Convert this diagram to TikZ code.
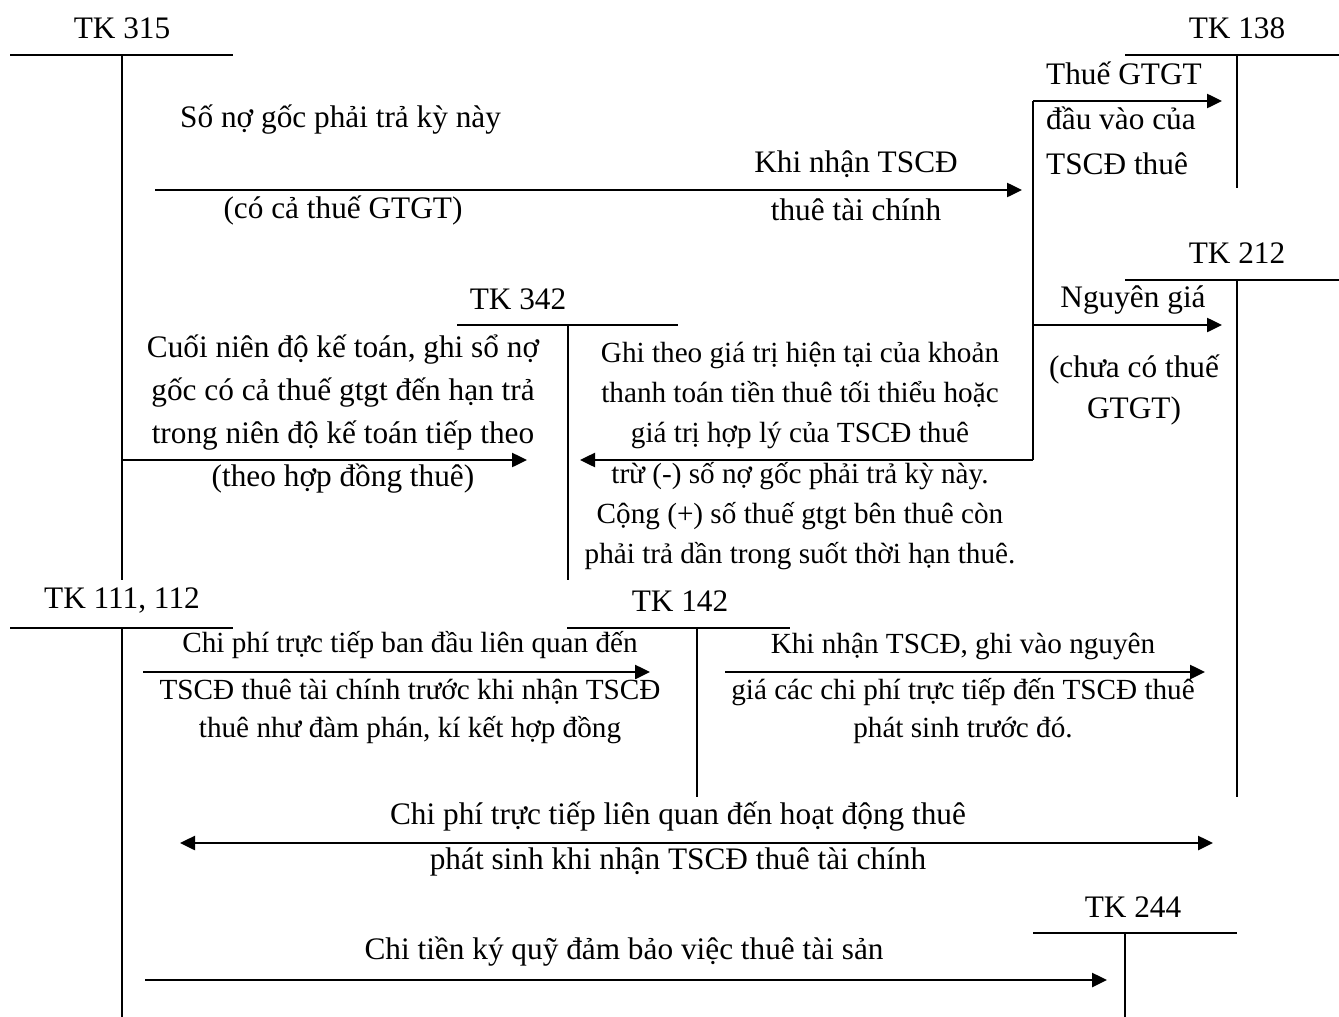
\documentclass[tikz,border=0pt]{standalone}
\usepackage{fontspec}
\setmainfont{Liberation Serif}
\usetikzlibrary{arrows.meta}
\begin{document}
\begin{tikzpicture}[x=1pt,y=-1pt,
  acc/.style={line width=2pt},
  flow/.style={line width=2.5pt,-{Triangle[length=15pt,width=14pt]}},
  bflow/.style={line width=2.5pt,{Triangle[length=15pt,width=14pt]}-{Triangle[length=15pt,width=14pt]}},
  txt/.style={font=\fontsize{31.3}{40}\selectfont, inner sep=0pt, align=center},
]
\useasboundingbox[fill=white] (0,0) rectangle (1339,1017);

% ---- T accounts
\node[txt] (l315) at (122,28) {TK 315};
\draw[acc] (10,55) -- (233,55) (122,55) -- (122,580);

\node[txt] (l138) at (1237,28) {TK 138};
\draw[acc] (1125,55) -- (1339,55) (1237,55) -- (1237,188);

\node[txt] (l212) at (1237,253) {TK 212};
\draw[acc] (1125,280) -- (1339,280) (1237,280) -- (1237,797);

\node[txt] (l342) at (518,299) {TK 342};
\draw[acc] (457,325) -- (678,325) (568,325) -- (568,580);

\node[txt] (l111) at (122,601) {TK 111, 112};
\draw[acc] (10,628) -- (233,628) (122,628) -- (122,1017);

\node[txt] (l142) at (680,601) {TK 142};
\draw[acc] (567,628) -- (790,628) (697,628) -- (697,797);

\node[txt] (l244) at (1133,907) {TK 244};
\draw[acc] (1033,933) -- (1237,933) (1125,933) -- (1125,1017);

% ---- connector end points
\coordinate (a1s) at (155,190);
\coordinate (a1e) at (1022,190);
\coordinate (jtop) at (1033,101);
\coordinate (j212) at (1033,325);
\coordinate (jbot) at (1033,460);
\coordinate (e138) at (1222,101);
\coordinate (e212) at (1222,325);
\coordinate (e342) at (580,460);
\coordinate (s315) at (122,460);
\coordinate (e342l) at (527,460);
\coordinate (s111a) at (143,672);
\coordinate (e142) at (650,672);
\coordinate (s142) at (725,672);
\coordinate (e212b) at (1205,672);
\coordinate (dL) at (180,843);
\coordinate (dR) at (1213,843);
\coordinate (s111b) at (145,980);
\coordinate (e244) at (1107,980);

% ---- connectors
\draw[flow] (a1s) -- (a1e);
\draw[line width=2.5pt] (jtop) -- (jbot);
\draw[flow] (jtop) -- (e138);
\draw[flow] (j212) -- (e212);
\draw[flow] (jbot) -- (e342);
\draw[flow] (s315) -- (e342l);
\draw[flow] (s111a) -- (e142);
\draw[flow] (s142) -- (e212b);
\draw[bflow] (dL) -- (dR);
\draw[flow] (s111b) -- (e244);

% ---- labels
\node[txt, anchor=west] (t1a) at (180,120) {Số nợ gốc phải trả kỳ này};
\node[txt] (t1b) at (343,210) {(có cả thuế GTGT)};
\node[txt] (t1c) at (856,164) {Khi nhận TSCĐ};
\node[txt] (t1d) at (856,210) {thuê tài chính};

\node[txt, anchor=west, align=left, font=\fontsize{31.3}{45}\selectfont] (t138) at (1046,118)
  {Thuế GTGT\\đầu vào của\\TSCĐ thuê};

\node[txt] (t212a) at (1133,300) {Nguyên giá};
\node[txt, font=\fontsize{31.3}{41}\selectfont] (t212b) at (1134,390) {(chưa có thuế\\GTGT)};

\node[txt, font=\fontsize{31.3}{43}\selectfont] (t342l) at (343,414)
  {Cuối niên độ kế toán, ghi sổ nợ\\gốc có cả thuế gtgt đến hạn trả\\trong niên độ kế toán tiếp theo\\(theo hợp đồng thuê)};

\node[txt, font=\fontsize{29.2}{40.2}\selectfont] (t342r) at (800,456)
  {Ghi theo giá trị hiện tại của khoản\\thanh toán tiền thuê tối thiểu hoặc\\giá trị hợp lý của TSCĐ thuê\\trừ (-) số nợ gốc phải trả kỳ này.\\Cộng (+) số thuế gtgt bên thuê còn\\phải trả dần trong suốt thời hạn thuê.};

\node[txt, font=\fontsize{29.2}{40}\selectfont] (t142a) at (410,645) {Chi phí trực tiếp ban đầu liên quan đến};
\node[txt, font=\fontsize{29.2}{38}\selectfont] (t142b) at (410,711)
  {TSCĐ thuê tài chính trước khi nhận TSCĐ\\thuê như đàm phán, kí kết hợp đồng};

\node[txt, font=\fontsize{29.2}{40}\selectfont] (t212c) at (963,646) {Khi nhận TSCĐ, ghi vào nguyên};
\node[txt, font=\fontsize{29.2}{38}\selectfont] (t212d) at (963,711)
  {giá các chi phí trực tiếp đến TSCĐ thuê\\phát sinh trước đó.};

\node[txt] (tdbl1) at (678,817) {Chi phí trực tiếp liên quan đến hoạt động thuê};
\node[txt] (tdbl2) at (678,862) {phát sinh khi nhận TSCĐ thuê tài chính};

\node[txt] (t244) at (624,952) {Chi tiền ký quỹ đảm bảo việc thuê tài sản};
\end{tikzpicture}
\end{document}
